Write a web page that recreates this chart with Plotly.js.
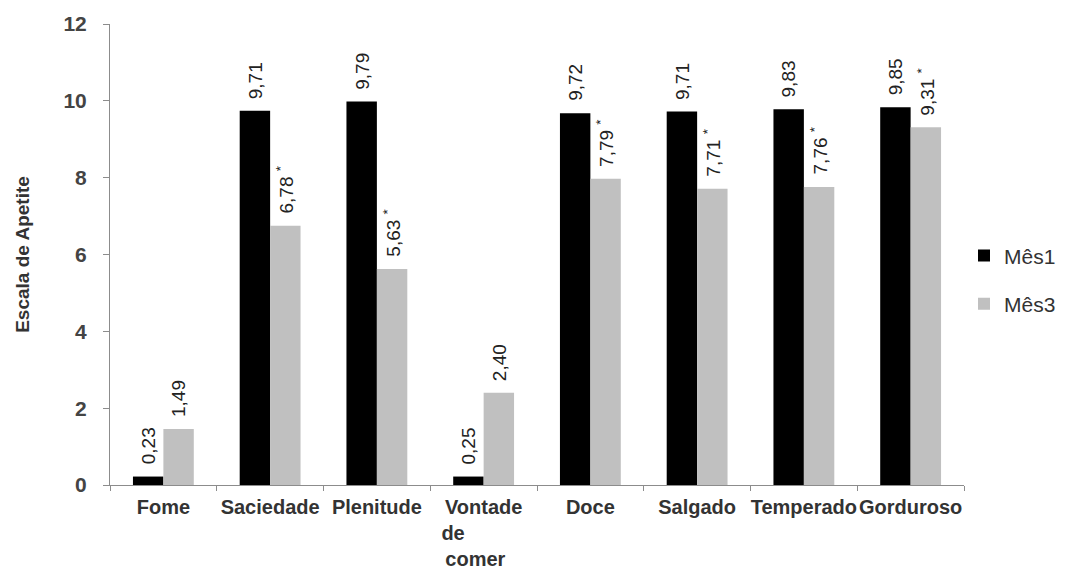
<!DOCTYPE html>
<html>
<head>
<meta charset="utf-8">
<script src="https://cdn.plot.ly/plotly-3.0.1.min.js"></script>
<style>html,body{margin:0;padding:0;background:#fff;}#chart{width:1086px;height:576px;}</style>
</head>
<body>
<div id="chart"></div>
<script>
var categories = ['Fome', 'Saciedade', 'Plenitude', 'Vontade<br>de' + '\u00a0'.repeat(11) + '<br>comer' + '\u00a0'.repeat(3), 'Doce', 'Salgado', 'Temperado', 'Gorduroso'];
var mes1Values = [0.22, 9.74, 9.98, 0.22, 9.68, 9.72, 9.78, 9.83];
var mes3Values = [1.46, 6.75, 5.62, 2.40, 7.97, 7.71, 7.76, 9.31];
var mes1Labels = ['0,23', '9,71', '9,79', '0,25', '9,72', '9,71', '9,83', '9,85'];
var mes3Labels = ['1,49', '6,78 <sup>*</sup>', '5,63 <sup>*</sup>', '2,40', '7,79 <sup>*</sup>', '7,71 <sup>*</sup>', '7,76 <sup>*</sup>', '9,31 <sup>*</sup>'];
var yTicks = [0, 2, 4, 6, 8, 10, 12];

var FONT = 'Liberation Sans, Arial, sans-serif';

var traces = [
  {type: 'bar', name: 'Mês1', x: categories, y: mes1Values, legendgroup: 'a',
   marker: {color: '#000000', line: {width: 0}}, hoverinfo: 'skip'},
  {type: 'bar', name: 'Mês3', x: categories, y: mes3Values, legendgroup: 'b',
   marker: {color: '#c0c0c0', line: {width: 0}}, hoverinfo: 'skip'}
];

var annotations = [];
var half = 15.2;
function addLabels(vals, labels, shift) {
  for (var i = 0; i < categories.length; i++) {
    annotations.push({
      x: categories[i], y: vals[i], xref: 'x', yref: 'y',
      text: labels[i], showarrow: false, textangle: -90,
      xanchor: 'center', yanchor: 'bottom', xshift: shift, yshift: 10,
      font: {family: FONT, size: 19, color: '#222'}
    });
  }
}
addLabels(mes1Values, mes1Labels, -half);
addLabels(mes3Values, mes3Labels, half);

var layout = {
  width: 1086, height: 576,
  margin: {l: 110, r: 122, t: 24, b: 91},
  paper_bgcolor: '#ffffff', plot_bgcolor: '#ffffff',
  barmode: 'group', bargap: 0.43, bargroupgap: 0,
  font: {family: FONT},
  showlegend: true,
  legend: {x: 1.0, xanchor: 'left', y: 0.445, yanchor: 'middle',
    traceorder: 'grouped', tracegroupgap: 18,
    font: {family: FONT, size: 21, color: '#333'}, bgcolor: 'rgba(0,0,0,0)'},
  xaxis: {
    type: 'category', showgrid: false, zeroline: false,
    showline: true, linecolor: '#8c8c8c', linewidth: 1,
    ticks: 'outside', tickson: 'boundaries', ticklen: 5, tickcolor: '#8c8c8c',
    tickangle: 0,
    tickfont: {family: FONT, size: 20, color: '#333', weight: 'bold'},
    ticklabelstandoff: 4, automargin: false
  },
  yaxis: {
    range: [0, 12], tickvals: yTicks, ticktext: yTicks.map(String),
    showgrid: false, zeroline: false,
    showline: true, linecolor: '#8c8c8c', linewidth: 1,
    ticks: 'outside', ticklen: 6, tickcolor: '#8c8c8c',
    tickfont: {family: FONT, size: 21, color: '#444', weight: 'bold'},
    ticklabelstandoff: 12, automargin: false,
    title: {text: 'Escala de Apetite', standoff: 28,
      font: {family: FONT, size: 19, color: '#333', weight: 'bold'}}
  },
  annotations: annotations
};

Plotly.newPlot('chart', traces, layout, {displayModeBar: false, staticPlot: true});
</script>
</body>
</html>
